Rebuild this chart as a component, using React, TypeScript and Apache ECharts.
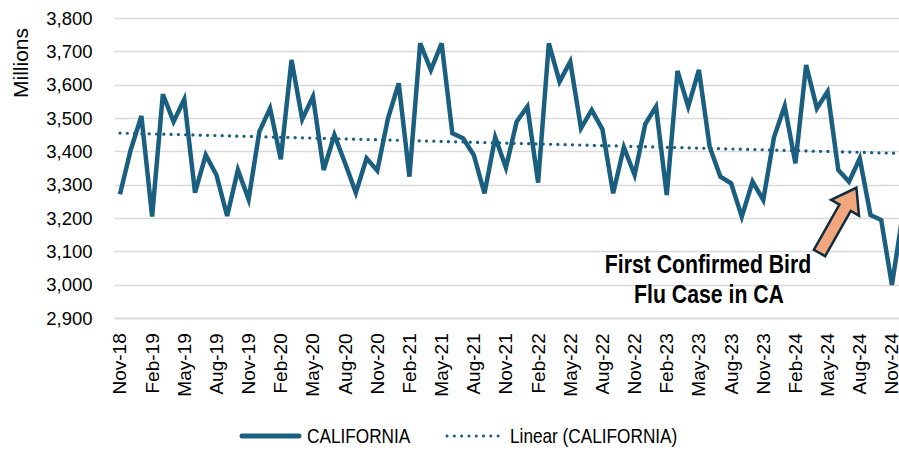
import React, { useEffect, useRef } from "react";
import * as echarts from "echarts";

const months: string[] = [
  "Nov-18", "Dec-18",
  "Jan-19", "Feb-19", "Mar-19", "Apr-19", "May-19", "Jun-19", "Jul-19", "Aug-19", "Sep-19", "Oct-19", "Nov-19", "Dec-19",
  "Jan-20", "Feb-20", "Mar-20", "Apr-20", "May-20", "Jun-20", "Jul-20", "Aug-20", "Sep-20", "Oct-20", "Nov-20", "Dec-20",
  "Jan-21", "Feb-21", "Mar-21", "Apr-21", "May-21", "Jun-21", "Jul-21", "Aug-21", "Sep-21", "Oct-21", "Nov-21", "Dec-21",
  "Jan-22", "Feb-22", "Mar-22", "Apr-22", "May-22", "Jun-22", "Jul-22", "Aug-22", "Sep-22", "Oct-22", "Nov-22", "Dec-22",
  "Jan-23", "Feb-23", "Mar-23", "Apr-23", "May-23", "Jun-23", "Jul-23", "Aug-23", "Sep-23", "Oct-23", "Nov-23", "Dec-23",
  "Jan-24", "Feb-24", "Mar-24", "Apr-24", "May-24", "Jun-24", "Jul-24", "Aug-24", "Sep-24", "Oct-24", "Nov-24", "Dec-24",
];

const california: number[] = [
  3272, 3405,
  3507, 3205, 3572, 3490, 3557, 3277, 3390, 3330, 3207, 3345, 3257, 3460,
  3530, 3377, 3675, 3497, 3565, 3345, 3450, 3365, 3277, 3380, 3343, 3500,
  3605, 3325, 3725, 3645, 3725, 3455, 3440, 3390, 3275, 3443, 3352, 3490,
  3535, 3307, 3725, 3610, 3670, 3470, 3525, 3467, 3275, 3413, 3330, 3483,
  3535, 3270, 3642, 3535, 3645, 3415, 3325, 3305, 3205, 3310, 3255, 3443,
  3537, 3365, 3660, 3530, 3580, 3345, 3310, 3380, 3210, 3195, 3000, 3210,
];

const yTicks = { min: 2900, max: 3800, interval: 100 };
const seriesNames = ["CALIFORNIA", "Linear (CALIFORNIA)"];
const annotationLines = ["First Confirmed Bird", "Flu Case in CA"];

function linearTrend(values: number[]): number[] {
  const n = values.length;
  let sx = 0, sy = 0, sxx = 0, sxy = 0;
  values.forEach((v, i) => {
    sx += i; sy += v; sxx += i * i; sxy += i * v;
  });
  const slope = (n * sxy - sx * sy) / (n * sxx - sx * sx);
  const intercept = (sy - slope * sx) / n;
  return values.map((_, i) => +(intercept + slope * i).toFixed(2));
}

const LINE_COLOR = "#1B5F80";
const SANS = "'Liberation Sans', Arial, sans-serif";
const NARROW_SCALE = 0.82;

export default function App() {
  const ref = useRef<HTMLDivElement>(null);
  useEffect(() => {
    if (!ref.current) return;
    const chart = echarts.init(ref.current, null, { renderer: "svg" });
    const trend = linearTrend(california);

    const arrowPts = [
      [0, -6.5], [52, -6.5], [52, -16], [75, 0], [52, 16], [52, 6.5], [0, 6.5],
    ];

    const legendY = 436;

    chart.setOption({
      animation: false,
      backgroundColor: "#ffffff",
      grid: { left: 114.6, right: 0, top: 18.3, bottom: 134.7, containLabel: false },
      xAxis: {
        type: "category",
        data: months,
        boundaryGap: true,
        axisLine: { show: true, lineStyle: { color: "#d9d9d9", width: 1.3 } },
        axisTick: { show: false },
        axisLabel: {
          interval: 2,
          rotate: 90,
          margin: 15,
          color: "#000",
          fontSize: 19,
          fontFamily: SANS,
        },
        splitLine: { show: false },
      },
      yAxis: {
        type: "value",
        min: yTicks.min,
        max: yTicks.max,
        interval: yTicks.interval,
        axisLine: { show: false },
        axisTick: { show: false },
        axisLabel: {
          margin: 22,
          color: "#000",
          fontSize: 18.5,
          fontFamily: SANS,
          formatter: (v: number) => v.toLocaleString("en-US"),
        },
        splitLine: { show: true, lineStyle: { color: "#d9d9d9", width: 1.3 } },
      },
      series: [
        {
          name: seriesNames[0],
          type: "line",
          data: california,
          symbol: "none",
          lineStyle: { color: LINE_COLOR, width: 4.5, join: "miter" },
          itemStyle: { color: LINE_COLOR },
          z: 3,
        },
        {
          name: seriesNames[1],
          type: "line",
          data: trend,
          symbol: "none",
          lineStyle: { color: LINE_COLOR, width: 3.2, type: [0.1, 7.2], cap: "round" },
          itemStyle: { color: LINE_COLOR },
          z: 2,
        },
      ],
      graphic: [
        {
          type: "text",
          x: 20,
          y: 63,
          rotation: Math.PI / 2,
          style: {
            text: "Millions",
            fontSize: 21,
            fontFamily: SANS,
            fill: "#000",
            align: "center",
            verticalAlign: "middle",
          },
        },
        {
          type: "text",
          x: 708,
          y: 264,
          scaleX: 0.85,
          style: {
            text: annotationLines[0],
            fontSize: 25,
            fontWeight: "bold",
            fontFamily: SANS,
            fill: "#000",
            align: "center",
            verticalAlign: "middle",
          },
          z: 10,
        },
        {
          type: "text",
          x: 709,
          y: 294,
          scaleX: 0.85,
          style: {
            text: annotationLines[1],
            fontSize: 25,
            fontWeight: "bold",
            fontFamily: SANS,
            fill: "#000",
            align: "center",
            verticalAlign: "middle",
          },
          z: 10,
        },
        {
          type: "polygon",
          x: 819.5,
          y: 253,
          rotation: 1.056,
          shape: { points: arrowPts },
          style: { fill: "#F2A67E", stroke: "#0F2D3F", lineWidth: 2.5, lineJoin: "miter" },
          z: 10,
        },
        // legend
        {
          type: "line",
          shape: { x1: 242, y1: legendY, x2: 299, y2: legendY },
          style: { stroke: LINE_COLOR, lineWidth: 5, lineCap: "round" },
        },
        {
          type: "text",
          x: 307,
          y: legendY,
          scaleX: NARROW_SCALE,
          style: {
            text: seriesNames[0],
            fontSize: 21,
            fontFamily: SANS,
            fill: "#000",
            align: "left",
            verticalAlign: "middle",
          },
        },
        {
          type: "line",
          shape: { x1: 447, y1: legendY, x2: 505, y2: legendY },
          style: { stroke: LINE_COLOR, lineWidth: 3, lineCap: "round", lineDash: [0.1, 7.2] },
        },
        {
          type: "text",
          x: 510,
          y: legendY,
          scaleX: NARROW_SCALE,
          style: {
            text: seriesNames[1],
            fontSize: 21,
            fontFamily: SANS,
            fill: "#000",
            align: "left",
            verticalAlign: "middle",
          },
        },
      ],
    });
    return () => chart.dispose();
  }, []);

  return (
    <div
      style={{ position: "fixed", left: 0, top: 0, width: 899, height: 453, overflow: "hidden", background: "#fff" }}
    >
      <div ref={ref} style={{ width: 908, height: 453 }} />
    </div>
  );
}
